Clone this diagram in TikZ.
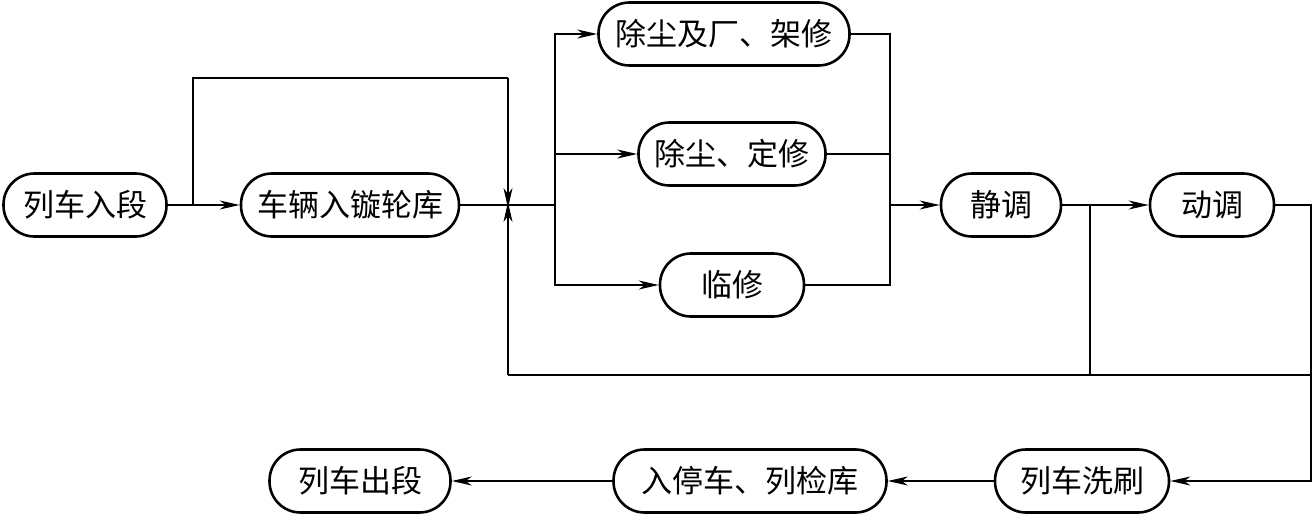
\documentclass[tikz,border=0pt]{standalone}
\usepackage{fontspec}
\newfontfamily\cjk{Noto Sans CJK SC}
\usetikzlibrary{shapes,arrows,arrows.meta}
\usetikzlibrary{positioning}

\begin{document}
\begin{tikzpicture}[x=1pt,y=-1pt]
            % flow of trains through the depot
            \tikzstyle{block} = [draw,rectangle,rounded corners=31pt,line width=2.6pt,minimum height=63pt,inner xsep=16pt,font=\cjk\fontsize{31}{33}\selectfont];
            \tikzstyle{line} = [line width=1.2pt];
            \tikzstyle{tip} = [-{Stealth[length=20pt,width=9pt,inset=6pt]}];
            \useasboundingbox (0,0) rectangle (1313,516);

            \node[block,minimum width=163pt] (arrive) at (85,205) {列车入段};
            \node[block,minimum width=213pt] (lathe) at (350,205) {车辆入镟轮库};
            \node[block,minimum width=251pt] (overhaul) at (724,34) {除尘及厂、架修};
            \node[block,minimum width=185pt] (periodic) at (732,154) {除尘、定修};
            \node[block,minimum width=144pt] (temp) at (732,285) {临修};
            \node[block,minimum width=120pt] (static) at (1001,205) {静调};
            \node[block,minimum width=124pt] (dynamic) at (1212,205) {动调};
            \node[block,minimum width=174pt] (wash) at (1082,481) {列车洗刷};
            \node[block,minimum width=273pt] (stable) at (750,481) {入停车、列检库};
            \node[block,minimum width=181pt] (depart) at (360,481) {列车出段};

            \coordinate (join) at (508,205);
            \coordinate (split) at (555,205);
            \coordinate (merge) at (890,205);
            \coordinate (branch) at (193,205);
            \coordinate (tap) at (1090,205);
            \coordinate (edge) at (1311,205);
            \coordinate (top) at (508,78);
            \coordinate (bottom) at (508,375);

            \draw[line,tip] (arrive) -- (lathe);
            \draw[line] (branch) |- (top);
            \draw[line,tip] (top) -- ([yshift=-3pt]join);
            \draw[line] (lathe) -- (split);
            \draw[line,tip] (split) |- (overhaul);
            \draw[line,tip] (split |- periodic) -- (periodic);
            \draw[line,tip] (split) |- (temp);

            \draw[line] (overhaul) -| (merge);
            \draw[line] (periodic) -- (merge |- periodic);
            \draw[line] (temp) -| (merge);
            \draw[line,tip] (merge) -- (static);

            \draw[line,tip] (static) -- (dynamic);
            \draw[line] (tap) |- (bottom -| edge);
            \draw[line] (bottom -| edge) -- (bottom);
            \draw[line,tip] (bottom) -- ([yshift=3pt]join);

            \draw[line,tip] (dynamic) -| (edge) |- (wash);
            \draw[line,tip] (wash) -- (stable);
            \draw[line,tip] (stable) -- (depart);
\end{tikzpicture}
\end{document}
